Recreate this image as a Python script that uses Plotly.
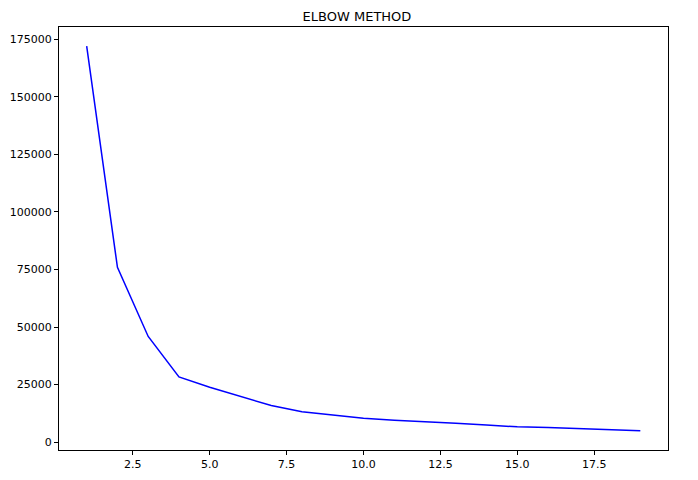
import plotly.graph_objs as go

# number of clusters vs. within-cluster sum of squares
clusters = list(range(1, 20))
wcss = [171960, 75900, 45900, 28300, 23800, 19800, 15900, 13150, 11700, 10400,
        9550, 8950, 8250, 7400, 6650, 6350, 5800, 5400, 4930]

fig = go.Figure()

fig.add_trace(go.Scatter(
    x=clusters,
    y=wcss,
    mode='lines',
    line=dict(color='blue', width=1.5),
    name='WCSS'
))

axis_style = dict(
    showline=True,
    linecolor='black',
    linewidth=1,
    mirror=True,
    showgrid=False,
    zeroline=False,
    automargin=False,
    ticks='outside',
    ticklen=4,
    tickwidth=1,
    tickcolor='black',
    tickfont=dict(family='DejaVu Sans', size=11, color='black'),
)

# the page body adds an 8px offset, margins allow for it
fig.update_layout(
    title=dict(text='ELBOW METHOD', x=0.5, xanchor='center', y=0.983, yanchor='middle',
               font=dict(family='DejaVu Sans', size=13, color='black')),
    width=698,
    height=480,
    margin=dict(l=51, r=38, t=19, b=38),
    paper_bgcolor='white',
    plot_bgcolor='white',
    showlegend=False,
    xaxis=dict(range=[0.1, 19.9], tickvals=[2.5, 5.0, 7.5, 10.0, 12.5, 15.0, 17.5],
               ticktext=['2.5', '5.0', '7.5', '10.0', '12.5', '15.0', '17.5'], **axis_style),
    yaxis=dict(range=[-3420, 180310], tickvals=[0, 25000, 50000, 75000, 100000, 125000, 150000, 175000],
               ticktext=['0', '25000', '50000', '75000', '100000', '125000', '150000', '175000'],
               **axis_style),
)

fig.write_html("out.html")
